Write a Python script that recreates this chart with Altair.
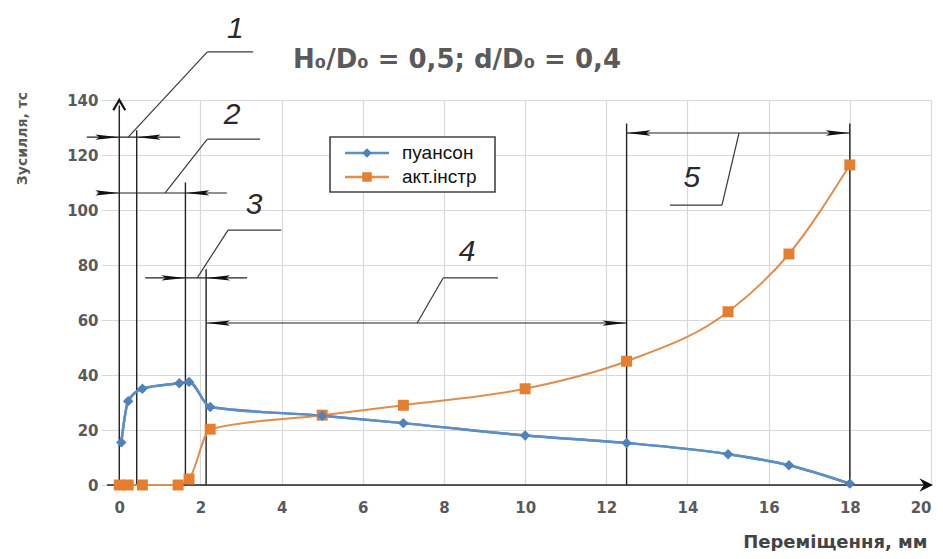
import altair as alt
import pandas as pd

# ---------------- data ----------------
x_ticks = list(range(0, 21, 2))
y_ticks = list(range(0, 141, 20))

series_names = ["пуансон", "акт.інстр"]

punch_x = [0.05, 0.22, 0.57, 1.48, 1.72, 2.24, 5.0, 7.0, 10.0, 12.5, 15.0, 16.5, 18.0]
punch_y = [15.5, 30.5, 35.0, 37.0, 37.5, 28.4, 25.2, 22.5, 18.0, 15.3, 11.2, 7.2, 0.5]

tool_x = [0.0, 0.22, 0.57, 1.45, 1.72, 2.24, 5.0, 7.0, 10.0, 12.5, 15.0, 16.5, 18.0]
tool_y = [0.0, 0.0, 0.0, 0.0, 2.2, 20.3, 25.4, 29.0, 35.0, 45.0, 63.0, 84.0, 116.4]

# extension (vertical) lines of the dimension annotations
ext_x = [0.0, 0.43, 1.63, 2.14, 12.5, 18.0]
ext_top = [138.0, 129.0, 110.0, 78.5, 131.5, 131.5]

# dimension lines
dim_y = [126.5, 106.2, 75.3, 58.9, 128.0]
dim_x1 = [-0.8, -0.55, 0.64, 2.14, 12.5]
dim_x2 = [1.5, 2.65, 3.15, 12.5, 18.0]

# arrow tips on the dimension lines
arr_x = [0.0, 0.43, 0.0, 1.63, 1.63, 2.14, 2.14, 12.5, 12.5, 18.0]
arr_y = [126.5, 126.5, 106.2, 106.2, 75.3, 75.3, 58.9, 58.9, 128.0, 128.0]
arr_dir = ["r", "l", "r", "l", "r", "l", "l", "r", "l", "r"]

# leader lines (x1, y1, x2, y2)
lead_x1 = [2.17, 2.17, 2.17, 2.17, 2.68, 2.68, 7.98, 7.98, 13.57, 14.85]
lead_y1 = [157.5, 157.5, 125.8, 125.8, 92.7, 92.7, 75.3, 75.3, 101.8, 101.8]
lead_x2 = [3.30, 0.22, 3.47, 1.13, 3.99, 1.92, 9.33, 7.34, 14.85, 15.27]
lead_y2 = [157.5, 126.5, 125.8, 106.2, 92.7, 75.3, 75.3, 58.9, 101.8, 128.0]

num_labels = ["1", "2", "3", "4", "5"]
num_x = [2.86, 2.78, 3.32, 8.57, 14.11]
num_y = [166.0, 134.5, 102.0, 84.7, 111.6]

title_text = "H₀/D₀ = 0,5; d/D₀ = 0,4"
x_title = "Переміщення, мм"
y_title = "Зусилля, тс"

# ---------------- styles ----------------
BLUE_LINE = "#5b8fc6"
BLUE_MARK = "#4f81bd"
ORANGE_LINE = "#e08e4e"
ORANGE_MARK = "#e67e30"
INK = "#222222"
GRAY_TXT = "#5a5a5a"

xs = alt.Scale(domain=[-0.45, 20.0], nice=False, zero=False)
ys = alt.Scale(domain=[0, 140], nice=False, zero=False)

df_punch = pd.DataFrame({"x": punch_x, "y": punch_y})
df_tool = pd.DataFrame({"x": tool_x, "y": tool_y})
df_ext = pd.DataFrame({"x": ext_x, "y": [0.0] * len(ext_x), "y2": ext_top})
df_dim = pd.DataFrame({"y": dim_y, "x": dim_x1, "x2": dim_x2})
df_arr = pd.DataFrame({"x": arr_x, "y": arr_y, "d": arr_dir})
df_lead = pd.DataFrame({"x": lead_x1, "y": lead_y1, "x2": lead_x2, "y2": lead_y2})
df_num = pd.DataFrame({"x": num_x, "y": num_y, "t": num_labels})

x_axis = alt.Axis(
    values=x_ticks, grid=True, gridColor="#d9d9d9", gridWidth=1.2,
    domain=False, ticks=False, labelFont="DejaVu Sans", labelFontWeight="bold",
    labelFontSize=15, labelColor=GRAY_TXT, labelPadding=15, labelFlush=True,
    title=x_title, titleFont="DejaVu Sans", titleFontWeight="bold",
    titleFontSize=18, titleColor="#444444", titleAlign="right",
    titleBaseline="middle", titleAngle=0, titleX=826, titleY=57,
)
y_axis = alt.Axis(
    values=y_ticks, grid=True, gridColor="#d9d9d9", gridWidth=1.2,
    domain=False, ticks=False, labelFont="DejaVu Sans", labelFontWeight="bold",
    labelFontSize=15, labelColor=GRAY_TXT, labelPadding=3,
    title=y_title, titleFont="DejaVu Sans", titleFontWeight="bold",
    titleFontSize=14, titleColor=GRAY_TXT, titleAlign="center",
    titleBaseline="middle", titleAngle=-90, titleX=-79, titleY=38,
)

X = lambda f: alt.X(f, scale=xs, axis=x_axis)
Y = lambda f: alt.Y(f, scale=ys, axis=y_axis)

punch_line = alt.Chart(df_punch).mark_line(
    interpolate="monotone", color=BLUE_LINE, strokeWidth=2.5
).encode(x=X("x:Q"), y=Y("y:Q"))

ext_lines = alt.Chart(df_ext).mark_rule(color=INK, strokeWidth=1.4).encode(
    x=X("x:Q"), y=Y("y:Q"), y2="y2:Q"
)
dim_lines = alt.Chart(df_dim).mark_rule(color=INK, strokeWidth=1.1).encode(
    y=Y("y:Q"), x=X("x:Q"), x2="x2:Q"
)
lead_lines = alt.Chart(df_lead).mark_rule(color="#3a3a3a", strokeWidth=1.2).encode(
    x=X("x:Q"), y=Y("y:Q"), x2="x2:Q", y2="y2:Q"
)

path_r = "M0,0 L-2,-0.22 L-1.65,0 L-2,0.22 Z"
path_l = "M0,0 L2,-0.22 L1.65,0 L2,0.22 Z"
arrows = alt.Chart(df_arr).mark_point(
    filled=True, color="#111111", size=576, opacity=1
).encode(
    x=X("x:Q"), y=Y("y:Q"),
    shape=alt.Shape("d:N", scale=alt.Scale(domain=["r", "l"], range=[path_r, path_l]), legend=None),
)

nums = alt.Chart(df_num).mark_text(
    font="Liberation Sans", fontStyle="italic", fontSize=30, color="#2a2a2a",
    align="center", baseline="middle"
).encode(x=X("x:Q"), y=Y("y:Q"), text="t:N")

# axis lines with arrows
x_axis_line = alt.Chart(pd.DataFrame({"x": [-0.3], "x2": [20.0], "y": [0.0]})).mark_rule(
    color=INK, strokeWidth=1.4
).encode(x=X("x:Q"), x2="x2:Q", y=Y("y:Q"))
x_arrow = alt.Chart(pd.DataFrame({"x": [20.05], "y": [0.0]})).mark_point(
    filled=True, color="#111111", size=256, opacity=1,
    shape="M0,0 L-1.7,-0.85 L-1.15,0 L-1.7,0.85 Z"
).encode(x=X("x:Q"), y=Y("y:Q"))
y_arrow = alt.Chart(pd.DataFrame({"x": [0.0], "y": [140.0]})).mark_point(
    filled=False, color="#111111", size=144, opacity=1, strokeWidth=2.2,
    shape="M-1,1.7 L0,0 L1,1.7"
).encode(x=X("x:Q"), y=Y("y:Q"))

tool_line = alt.Chart(df_tool).mark_line(
    interpolate="monotone", color=ORANGE_LINE, strokeWidth=2
).encode(x=X("x:Q"), y=Y("y:Q"))
tool_pts = alt.Chart(df_tool).mark_point(
    shape="square", filled=True, color=ORANGE_MARK, size=120, opacity=1
).encode(x=X("x:Q"), y=Y("y:Q"))
punch_pts = alt.Chart(df_punch).mark_point(
    shape="diamond", filled=True, color=BLUE_MARK, size=110, opacity=1
).encode(x=X("x:Q"), y=Y("y:Q"))

# chart title as text placed above the plot
title_mark = alt.Chart(pd.DataFrame({"t": [title_text]})).mark_text(
    font="DejaVu Sans", fontSize=26, fontWeight="bold", color=GRAY_TXT,
    align="center", baseline="middle"
).encode(x=alt.value(356), y=alt.value(-40), text="t:N")

# legend (drawn in pixel space of the plot)
leg_box = alt.Chart(pd.DataFrame({"a": [0]})).mark_rect(
    fill="white", stroke="#444444", strokeWidth=1.6
).encode(x=alt.value(229), x2=alt.value(394), y=alt.value(37), y2=alt.value(92))
leg_items = []
for i, (nm, lc, mc, shp) in enumerate(
    [(series_names[0], BLUE_LINE, BLUE_MARK, "diamond"),
     (series_names[1], ORANGE_LINE, ORANGE_MARK, "square")]
):
    yy = 53 + 24 * i
    one = pd.DataFrame({"name": [nm]})
    leg_items.append(
        alt.Chart(one).mark_rule(color=lc, strokeWidth=2.5).encode(
            x=alt.value(244), x2=alt.value(288), y=alt.value(yy)
        )
    )
    leg_items.append(
        alt.Chart(one).mark_point(shape=shp, filled=True, color=mc, size=90, opacity=1).encode(
            x=alt.value(266), y=alt.value(yy)
        )
    )
    leg_items.append(
        alt.Chart(one).mark_text(
            font="Liberation Sans", fontSize=19, color="#111111", align="left", baseline="middle"
        ).encode(x=alt.value(301), y=alt.value(yy), text="name:N")
    )

chart = alt.layer(
    punch_line, ext_lines, dim_lines, lead_lines, arrows, nums,
    x_axis_line, x_arrow, y_arrow,
    tool_line, punch_line, tool_pts, punch_pts,
    leg_box, *leg_items, title_mark,
).properties(
    width=830, height=385,
    autosize=alt.AutoSizeParams(type="none"),
    padding={"left": 93, "top": 92, "right": 4, "bottom": 66},
).configure_view(stroke=None)

chart.save("out.html", embed_options={"renderer": "svg", "actions": False})
